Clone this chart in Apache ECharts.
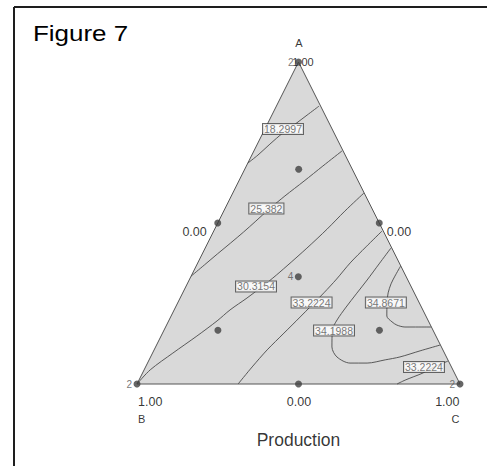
<!DOCTYPE html>
<html><head><meta charset="utf-8">
<script src="https://cdn.jsdelivr.net/npm/echarts@6/dist/echarts.min.js"></script>
<style>html,body{margin:0;padding:0;background:#fff}#c{width:487px;height:466px}</style>
</head><body><div id="c"></div>
<script>
// Ternary mixture data. Contour points are [A, C] proportions; B = 1 - A - C.
const figureTitle = 'Figure 7';
const responseName = 'Production';
const vertexNames = ['A', 'B', 'C'];
const vertexTicks = ['1.00', '1.00', '1.00'];
const edgeMidTicks = ['0.00', '0.00', '0.00'];   // on edge B-C, A-B, A-C

const triangleVertices = [[1, 0], [0, 0], [0, 1]]; // A, B, C as [A, C]

// design points [A, B, C] and replicate counts
const designPoints = [[1, 0, 0], [0.667, 0.167, 0.167], [0.5, 0.5, 0], [0.5, 0, 0.5], [0.333, 0.333, 0.333],
  [0.167, 0.667, 0.167], [0.167, 0.167, 0.667], [0, 1, 0], [0, 0.5, 0.5], [0, 0, 1]];
const replicates = [2, 1, 1, 1, 4, 1, 1, 2, 1, 2];

const contour_18_2997 = [[0.863,0.132],[0.835,0.109],[0.807,0.086],[0.780,0.062],[0.745,0.039],[0.711,0.019],[0.686,0.000]];
const contour_25_382 = [[0.724,0.273],[0.677,0.237],[0.630,0.202],[0.584,0.166],[0.544,0.138],[0.506,0.115],[0.472,0.094],[0.438,0.071],[0.404,0.047],[0.370,0.024],[0.335,0.000]];
const contour_30_3154 = [[0.593,0.406],[0.537,0.375],[0.481,0.348],[0.422,0.315],[0.367,0.281],[0.329,0.256],[0.295,0.230],[0.267,0.207],[0.230,0.173],[0.196,0.150],[0.149,0.111],[0.096,0.063],[0.044,0.019],[0.000,0.000]];
const contour_33_2224a = [[0.475,0.521],[0.426,0.496],[0.376,0.472],[0.326,0.455],[0.283,0.437],[0.208,0.401],[0.158,0.376],[0.106,0.350],[0.053,0.330],[0.000,0.313]];
const contour_34_1988 = [[0.422,0.575],[0.373,0.563],[0.323,0.551],[0.280,0.539],[0.239,0.528],[0.199,0.520],[0.168,0.521],[0.115,0.546],[0.084,0.577],[0.065,0.627],[0.065,0.680],[0.075,0.731],[0.084,0.772],[0.103,0.825],[0.121,0.878]];
const contour_34_8671 = [[0.366,0.633],[0.335,0.631],[0.311,0.631],[0.283,0.636],[0.252,0.648],[0.211,0.668],[0.193,0.693],[0.183,0.713],[0.177,0.741],[0.177,0.766],[0.177,0.822]];
const contour_33_2224b = [[0.000,0.805],[0.012,0.824],[0.022,0.844],[0.034,0.868],[0.053,0.893],[0.071,0.927]];

const contourLines = [contour_18_2997, contour_25_382, contour_30_3154, contour_33_2224a, contour_34_1988, contour_34_8671, contour_33_2224b];
const contourLabelText = ['18.2997', '25.382', '30.3154', '33.2224', '34.1988', '34.8671', '33.2224'];
const contourLabelAt = [[0.792,0.056],[0.545,0.128],[0.303,0.217],[0.253,0.414],[0.166,0.527],[0.253,0.644],[0.053,0.862]];

// projection of ternary [A, C] onto the plane
function toXY(ac) { return [ac[1] + ac[0] / 2, ac[0]]; }

const FONT = '"Liberation Sans", Arial, Helvetica, sans-serif';
const chart = echarts.init(document.getElementById('c'), null, {renderer: 'svg'});

const series = [];
series.push({
  type: 'custom', clip: false, z: 1, silent: true,
  data: [[0.5, 0.5]],
  renderItem: function (params, api) {
    const pts = triangleVertices.map(v => api.coord(toXY(v)));
    return {type: 'polygon', shape: {points: pts}, style: {fill: '#d9d9d9', stroke: '#555', lineWidth: 1}};
  }
});
contourLines.forEach(function (c) {
  series.push({
    type: 'line', clip: false, z: 2, silent: true, showSymbol: false, symbol: 'none', smooth: 0.3,
    data: c.map(toXY), lineStyle: {color: '#4a4a4a', width: 0.9}
  });
});
series.push({
  type: 'scatter', clip: false, z: 5, silent: true, symbolSize: 1,
  itemStyle: {color: 'rgba(0,0,0,0)'},
  data: contourLabelAt.map((p, i) => ({value: toXY(p), name: contourLabelText[i]})),
  label: {
    show: true, position: 'inside', formatter: '{b}', fontFamily: FONT, fontSize: 10.5, color: '#555',
    backgroundColor: '#fff', borderColor: '#444', borderWidth: 1, padding: [0, 1, 0, 1], lineHeight: 10
  }
});
series.push({
  type: 'scatter', clip: false, z: 6, silent: true, symbol: 'circle', symbolSize: 7,
  itemStyle: {color: '#404040'},
  data: designPoints.map((p, i) => ({value: toXY([p[0], p[2]]), rep: replicates[i]})),
  label: {
    show: true, position: 'left', distance: 1.5, fontFamily: FONT, fontSize: 10, color: '#555',
    formatter: function (p) { return p.data.rep > 1 ? String(p.data.rep) : ''; }
  }
});

// text anchored to the triangle's vertices and edge midpoints
function txt(ac, text, align, dx, dy, size) {
  return {value: toXY(ac), label: {formatter: text, align: align, offset: [dx, dy], fontSize: size}};
}
const textItems = [
  txt([1, 0], vertexNames[0], 'center', 0.5, -19, 11),
  txt([1, 0], vertexTicks[0], 'center', 4.5, 0, 11),
  txt([0, 0], vertexTicks[1], 'left', 1, 18, 12.5),
  txt([0, 0], vertexNames[1], 'left', 1, 35, 11),
  txt([0, 1], vertexTicks[2], 'right', -0.5, 18, 12.5),
  txt([0, 1], vertexNames[2], 'right', -0.5, 35, 11),
  txt([0, 0.5], edgeMidTicks[0], 'center', 0.5, 18, 12.5),
  txt([0.5, 0], edgeMidTicks[1], 'right', -11, 8.5, 12.5),
  txt([0.5, 0.5], edgeMidTicks[2], 'left', 7.5, 8.5, 12.5),
  txt([0, 0.5], responseName, 'center', 0, 56, 17.5)
];
series.push({
  type: 'scatter', clip: false, z: 4, silent: true, symbolSize: 1,
  itemStyle: {color: 'rgba(0,0,0,0)'},
  data: textItems,
  label: {show: true, position: 'inside', verticalAlign: 'middle', fontFamily: FONT, color: '#000'}
});

chart.setOption({
  animation: false,
  backgroundColor: '#fff',
  grid: {left: 137, right: 27, top: 62, bottom: 82, show: false},
  xAxis: {type: 'value', min: 0, max: 1, show: false},
  yAxis: {type: 'value', min: 0, max: 1, show: false},
  graphic: [
    {type: 'line', shape: {x1: 14, y1: 7, x2: 487, y2: 7}, style: {stroke: '#1e1e1e', lineWidth: 2}, silent: true},
    {type: 'line', shape: {x1: 14, y1: 7, x2: 14, y2: 466}, style: {stroke: '#1e1e1e', lineWidth: 2}, silent: true},
    {type: 'text', x: 33, y: 33, scaleX: 1.18, silent: true,
      style: {text: figureTitle, font: '22px ' + FONT, fill: '#000', align: 'left', verticalAlign: 'middle',
        textAlign: 'left', textVerticalAlign: 'middle'}}
  ],
  series: series
});
</script></body></html>
